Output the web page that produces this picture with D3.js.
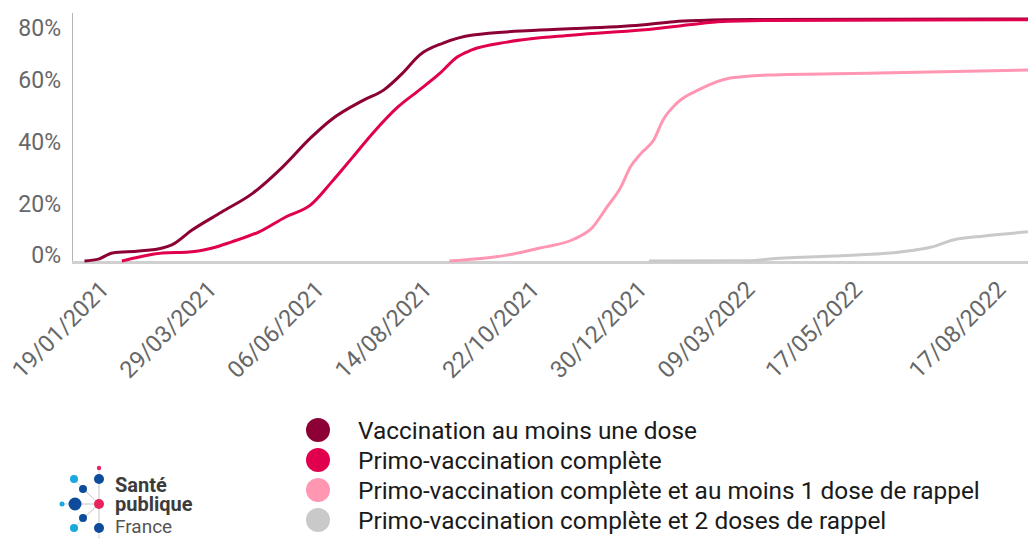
<!DOCTYPE html>
<html>
<head>
<meta charset="utf-8">
<script src="https://cdn.jsdelivr.net/npm/d3@7"></script>
<style>
    body { margin: 0; background: #fff; }
    svg { display: block; font-family: Roboto, "Liberation Sans", sans-serif; }
    .tick text { fill: #676767; }
    .legend text { fill: #1a1a1a; }
</style>
</head>
<body>
<div class="container"></div>
<script>
// values, % of population
var auMoinsUneDose = [
    ["2021-01-04", 0], ["2021-01-13", 0.6], ["2021-01-22", 2.6], ["2021-02-08", 3.2],
    ["2021-02-23", 4.2], ["2021-03-01", 5.2], ["2021-03-14", 10], ["2021-04-02", 15.8],
    ["2021-04-22", 21.9], ["2021-05-11", 30.3], ["2021-05-29", 39.7], ["2021-06-11", 45.5],
    ["2021-07-02", 51.9], ["2021-07-15", 55.2], ["2021-07-27", 60.6], ["2021-08-07", 66.5],
    ["2021-08-22", 70.3], ["2021-09-10", 72.9], ["2021-10-23", 74.5], ["2021-12-27", 76.1],
    ["2022-01-17", 77.2], ["2022-02-03", 77.6], ["2022-03-07", 77.9], ["2022-09-01", 78.1]
];
var primoComplete = [
    ["2021-01-28", 0], ["2021-02-08", 1.3], ["2021-02-23", 2.6], ["2021-03-12", 2.9],
    ["2021-03-27", 4.2], ["2021-04-08", 6.1], ["2021-04-26", 9.4], ["2021-05-13", 14.2],
    ["2021-05-29", 18.1], ["2021-06-11", 25.2], ["2021-06-25", 33.5], ["2021-07-08", 41.3],
    ["2021-07-24", 49.7], ["2021-08-05", 54.5], ["2021-08-20", 60.6], ["2021-08-31", 65.8],
    ["2021-09-09", 68], ["2021-10-02", 70.6], ["2021-11-14", 72.9], ["2021-12-27", 74.5],
    ["2022-02-03", 76.6], ["2022-02-14", 77.2], ["2022-03-18", 77.6], ["2022-09-01", 77.8]
];
var unRappel = [
    ["2021-08-26", 0], ["2021-10-02", 1.9], ["2021-10-23", 4.2], ["2021-11-14", 7.1],
    ["2021-11-26", 11], ["2021-12-05", 17.4], ["2021-12-14", 23.9], ["2021-12-20", 30.3],
    ["2021-12-27", 34.8], ["2022-01-04", 39], ["2022-01-10", 45.5], ["2022-01-19", 51],
    ["2022-02-03", 55.5], ["2022-02-22", 59], ["2022-03-18", 60], ["2022-05-21", 60.6],
    ["2022-09-01", 61.6]
];
var deuxRappels = [
    ["2022-01-01", 0], ["2022-03-07", 0.1], ["2022-03-18", 0.6], ["2022-04-29", 1.6],
    ["2022-06-11", 2.9], ["2022-07-01", 4.5], ["2022-07-15", 6.8], ["2022-08-04", 8.1],
    ["2022-09-01", 9.4]
];

var seriesNames = [
    "Vaccination au moins une dose",
    "Primo-vaccination complète",
    "Primo-vaccination complète et au moins 1 dose de rappel",
    "Primo-vaccination complète et 2 doses de rappel"
];
var seriesColors = ["#8c0035", "#e1004e", "#ff97b3", "#c9c9c9"];
var xTickLabels = ["19/01/2021", "29/03/2021", "06/06/2021", "14/08/2021", "22/10/2021",
    "30/12/2021", "09/03/2022", "17/05/2022", "17/08/2022"];
var yTicks = [0, 20, 40, 60, 80];

var parseIso = d3.timeParse("%Y-%m-%d");
var parseFr = d3.timeParse("%d/%m/%Y");

var svg = d3.select(".container").append("svg")
    .attr("width", 1028)
    .attr("height", 538);

var x = d3.scaleTime()
    .domain([parseIso("2020-12-27"), parseIso("2022-09-01")])
    .range([72, 1028]);
var y = d3.scaleLinear()
    .domain([0, 80])
    .range([261, 13]);

// y axis
var yAxis = svg.append("g")
    .attr("transform", "translate(61,0)")
    .call(d3.axisLeft(y).tickValues(yTicks).tickSize(0).tickPadding(0)
        .tickFormat((d) => d + "%"));
yAxis.attr("font-family", null).attr("font-size", null);
yAxis.select(".domain").remove();
yAxis.selectAll("text")
    .attr("font-size", 23)
    .attr("dy", "0.36em")
    .attr("y", (d) => {
        if (d == 80) return 14;
        if (d == 0) return -7;
        return 4;
    });

svg.append("line")
    .attr("x1", 72.5).attr("x2", 72.5)
    .attr("y1", 13).attr("y2", 262)
    .attr("stroke", "#b5b5b5");
svg.append("line")
    .attr("x1", 72).attr("x2", 1028)
    .attr("y1", 262.5).attr("y2", 262.5)
    .attr("stroke", "#d0d0d0")
    .attr("stroke-width", 3);

// x axis, rotated labels
var xAxis = svg.append("g")
    .attr("transform", "translate(0,262)")
    .call(d3.axisBottom(x).tickValues(xTickLabels.map(parseFr)).tickSize(0)
        .tickFormat(d3.timeFormat("%d/%m/%Y")));
xAxis.attr("font-family", null).attr("font-size", null);
xAxis.select(".domain").remove();
xAxis.selectAll("text")
    .attr("font-size", 23.5)
    .attr("text-anchor", "end")
    .attr("dy", 0)
    .attr("y", 0)
    .attr("transform", "translate(2,29) rotate(-45)");

// lines
var line = d3.line()
    .x((d) => x(parseIso(d[0])))
    .y((d) => y(d[1]))
    .curve(d3.curveMonotoneX);

var allSeries = [auMoinsUneDose, primoComplete, unRappel, deuxRappels];
svg.append("g").selectAll("path")
    .data(allSeries)
    .enter()
    .append("path")
    .attr("d", line)
    .attr("fill", "none")
    .attr("stroke", (d, i) => seriesColors[i])
    .attr("stroke-width", 3)
    .attr("stroke-linejoin", "round");

// legend
var legend = svg.append("g").classed("legend", true)
    .selectAll("g")
    .data(seriesNames)
    .enter()
    .append("g")
    .attr("transform", (d, i) => "translate(318," + (430 + i * 30) + ")");
legend.append("circle")
    .attr("r", 12)
    .attr("fill", (d, i) => seriesColors[i]);
legend.append("text")
    .attr("x", 40)
    .attr("dy", "0.35em")
    .attr("font-size", 24.4)
    .text((d) => d);

// Santé publique France logo
var logo = svg.append("g");
var logoDots = [
    [99, 504, 5, "#e8235f"], [99, 468, 2.2, "#e8235f"], [74, 479, 4, "#1ba8e0"],
    [99, 479, 5, "#0d4c9b"], [83, 489, 4, "#0d4c9b"], [62, 504, 2.5, "#1ba8e0"],
    [75, 504, 6.5, "#0d4c9b"], [83, 518, 4, "#0d4c9b"], [74, 528, 4, "#1ba8e0"],
    [99, 528, 5, "#0d4c9b"], [99, 540, 2.2, "#e8235f"]
];
logo.selectAll("line")
    .data(logoDots.slice(1))
    .enter()
    .append("line")
    .attr("x1", 99).attr("y1", 504)
    .attr("x2", (d) => d[0]).attr("y2", (d) => d[1])
    .attr("stroke", "#d8d8d8")
    .attr("stroke-width", 1);
logo.selectAll("circle")
    .data(logoDots)
    .enter()
    .append("circle")
    .attr("cx", (d) => d[0])
    .attr("cy", (d) => d[1])
    .attr("r", (d) => d[2])
    .attr("fill", (d) => d[3]);
logo.append("text").attr("x", 115).attr("y", 492)
    .attr("font-size", 20).attr("font-weight", "bold").attr("fill", "#3c3c3c")
    .text("Santé");
logo.append("text").attr("x", 115).attr("y", 511)
    .attr("font-size", 20).attr("font-weight", "bold").attr("fill", "#3c3c3c")
    .text("publique");
logo.append("text").attr("x", 115).attr("y", 533)
    .attr("font-size", 19).attr("fill", "#555")
    .text("France");
</script>
</body>
</html>
